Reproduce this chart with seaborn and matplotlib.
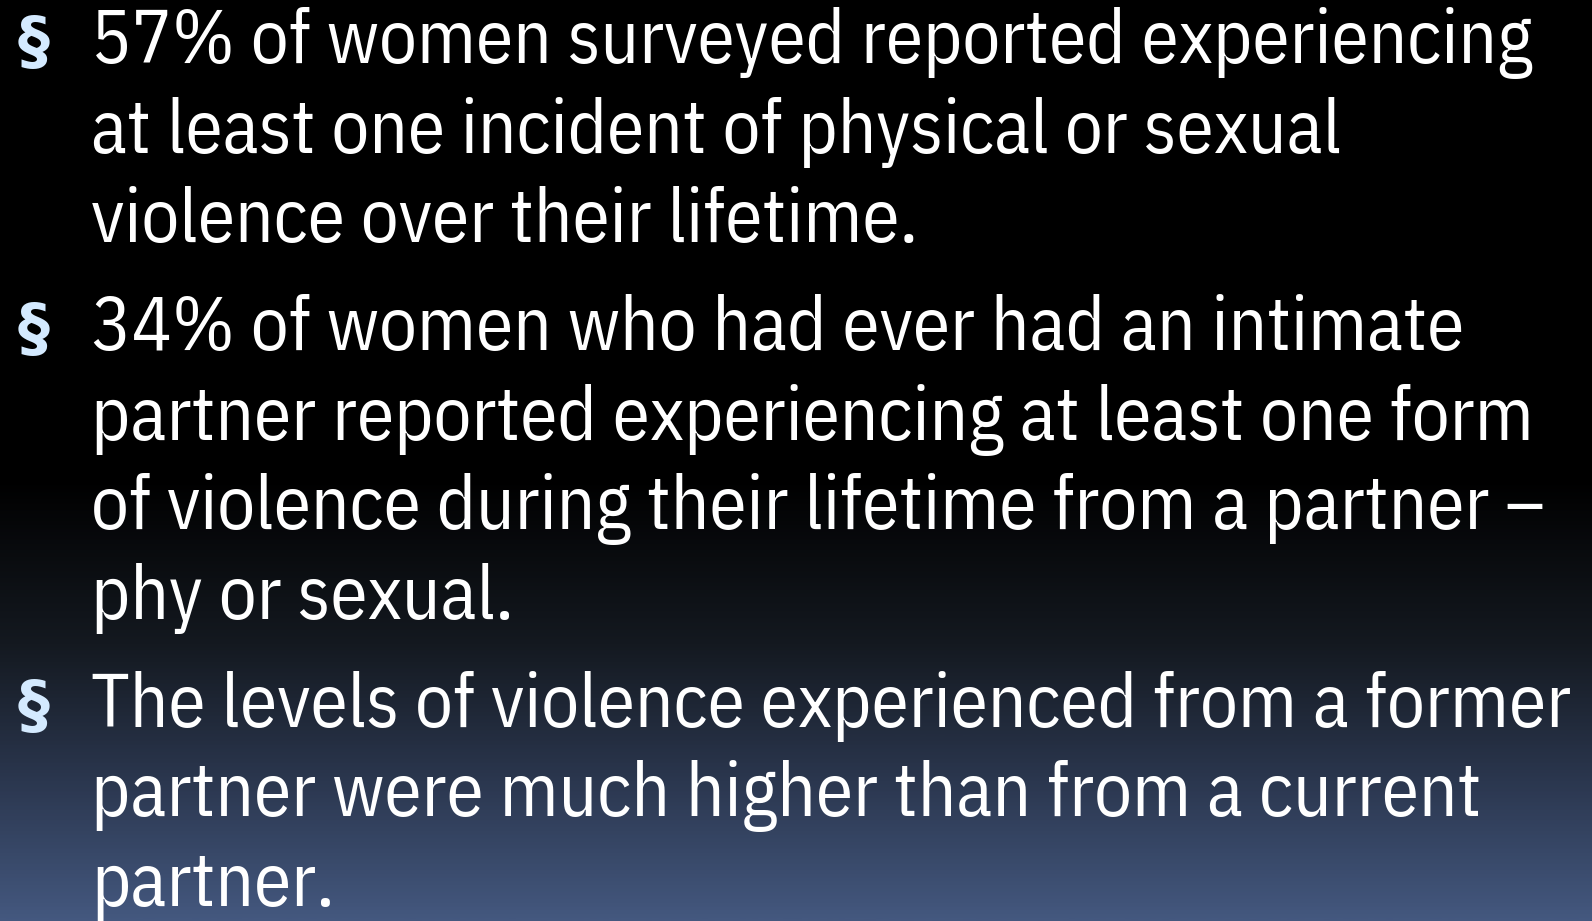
import matplotlib.pyplot as plt
import numpy as np
import seaborn as sns
from matplotlib import font_manager
from matplotlib.colors import LinearSegmentedColormap

# slide content
bullets = [
    ["57% of women surveyed reported experiencing",
     "at least one incident of physical or sexual",
     "violence over their lifetime."],
    ["34% of women who had ever had an intimate",
     "partner reported experiencing at least one form",
     "of violence during their lifetime from a partner \u2013",
     "phy or sexual."],
    ["The levels of violence experienced from a former",
     "partner were much higher than from a current",
     "partner."],
]
bullet_mark = "\u00a7"

# background gradient stops (fraction from top, colour)
grad_pos = [0.0, 0.52, 0.70, 0.85, 1.0]
grad_col = ["#000000", "#000000", "#141920", "#2b374f", "#44587f"]

sns.set_theme(style="white")
names = {f.name for f in font_manager.fontManager.ttflist}
family = ["IBM Plex Sans Condensed", "Liberation Sans", "DejaVu Sans"]
plt.rcParams["font.family"] = [f for f in family if f in names] or ["DejaVu Sans"]

W, H = 1592, 921
fig = plt.figure(figsize=(W / 100, H / 100), dpi=100)
ax = fig.add_axes([0, 0, 1, 1])
ax.set_xlim(0, W)
ax.set_ylim(H, 0)
ax.axis("off")

cmap = LinearSegmentedColormap.from_list("bg", list(zip(grad_pos, grad_col)))
grad = np.linspace(0, 1, 512).reshape(-1, 1)
ax.imshow(grad, cmap=cmap, aspect="auto", extent=[0, W, H, 0], zorder=0)

fs = 54
line_h = 89.5
para_gap = 108
y = 63
for lines in bullets:
    ax.text(34, y, bullet_mark, color="#d4eaff", fontsize=46,
            fontweight="bold", ha="center", va="baseline",
            family=["DejaVu Sans"])
    for i, line in enumerate(lines):
        ax.text(91, y + i * line_h, line, color="white", fontsize=fs,
                ha="left", va="baseline")
    y += (len(lines) - 1) * line_h + para_gap

fig.savefig("out.png", dpi=100)
